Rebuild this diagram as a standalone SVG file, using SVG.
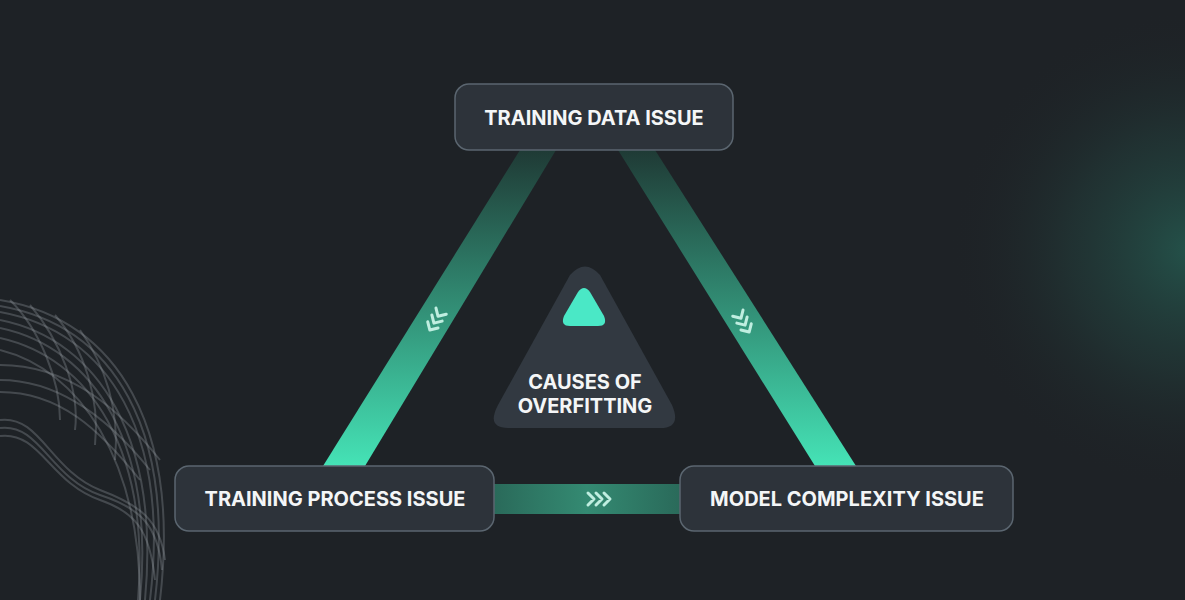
<svg xmlns="http://www.w3.org/2000/svg" width="1185" height="600" viewBox="0 0 1185 600">
<defs>
<style>
.node{fill:#2d333a;stroke:#5b6670;stroke-width:1.5}
.lbl{font-family:Inter,"Liberation Sans",sans-serif;font-weight:700;font-size:20px;fill:#f4f6f7;text-anchor:middle}
.chev{fill:none;stroke:#bfeee0;stroke-width:3;stroke-linecap:round;stroke-linejoin:round}
.mesh{fill:none;stroke:#a0a6ac;stroke-width:2;opacity:.3}
</style>
<radialGradient id="glow" cx="1190" cy="250" r="240" gradientUnits="userSpaceOnUse">
<stop offset="0" stop-color="#255a50" stop-opacity=".85"/><stop offset=".5" stop-color="#23403d" stop-opacity=".5"/><stop offset="1" stop-color="#1e2226" stop-opacity="0"/>
</radialGradient>
<linearGradient id="gL" x1="0" y1="150" x2="0" y2="466" gradientUnits="userSpaceOnUse">
<stop offset="0" stop-color="#1f3a35"/><stop offset="1" stop-color="#45e3b6"/></linearGradient>
<linearGradient id="gB" x1="494" y1="0" x2="680" y2="0" gradientUnits="userSpaceOnUse">
<stop offset="0" stop-color="#2a6a5a"/><stop offset=".5" stop-color="#348a72"/><stop offset="1" stop-color="#2a6a5a"/></linearGradient>
</defs>
<rect width="1185" height="600" fill="#1e2226"/>
<rect width="1185" height="600" fill="url(#glow)"/>
<g id="mesh">
<path class="mesh" d="M0 300 C120 320 180 430 160 600"/>
<path class="mesh" d="M0 306 C115 326 175 430 155 600"/>
<path class="mesh" d="M0 312 C110 332 170 435 150 600"/>
<path class="mesh" d="M0 320 C100 340 160 440 145 600"/>
<path class="mesh" d="M0 328 C95 348 155 445 140 600"/>
<path class="mesh" d="M0 338 C90 358 150 450 138 600"/>
<path class="mesh" d="M0 350 C80 370 140 460 140 600"/>
<path class="mesh" d="M0 420 C40 415 50 470 100 490 C140 505 160 520 165 560"/>
<path class="mesh" d="M0 428 C40 423 50 478 100 495 C140 508 158 525 162 570"/>
<path class="mesh" d="M0 436 C40 431 50 483 100 500 C135 512 150 530 155 580"/>
<path class="mesh" d="M0 380 C60 380 110 420 150 470"/>
<path class="mesh" d="M0 392 C60 392 100 430 140 480"/>
<path class="mesh" d="M0 365 C70 365 120 410 160 460"/>
<path class="mesh" d="M10 300 C40 330 60 380 60 420"/>
<path class="mesh" d="M30 305 C60 340 80 390 75 430"/>
<path class="mesh" d="M55 315 C85 350 100 400 95 445"/>
<path class="mesh" d="M80 330 C105 365 120 410 115 460"/>
</g>
<g id="connectors">
<polygon points="520,150 556,150 365,466 323,466" fill="url(#gL)"/>
<polygon points="618,150 655,150 856,466 815,466" fill="url(#gL)"/>
<rect x="494" y="484" width="186" height="30" fill="url(#gB)"/>
<g class="chev"><path d="M588 493 l6 6 -6 6 M596 493 l6 6 -6 6 M604 493 l6 6 -6 6"/></g>
<g class="chev" transform="translate(437 318) rotate(121)"><path d="M-8 -6 l6 6 -6 6 M0 -6 l6 6 -6 6 M8 -6 l6 6 -6 6"/></g>
<g class="chev" transform="translate(742 320) rotate(59)"><path d="M-8 -6 l6 6 -6 6 M0 -6 l6 6 -6 6 M8 -6 l6 6 -6 6"/></g>
</g>
<g id="center">
<path d="M570 275 Q585 258 600 275 L672 405 Q682 428 660 428 L508 428 Q486 428 498 405 Z" fill="#323941"/>
<path d="M578 292 Q584 284 590 292 L604 316 Q608 326 598 326 L570 326 Q560 326 564 316 Z" fill="#4ae8c6"/>
<text class="lbl" x="585" y="389">CAUSES OF</text>
<text class="lbl" x="585" y="413">OVERFITTING</text>
</g>
<g id="n-data"><rect class="node" x="455" y="84" width="278" height="66" rx="14"/><text class="lbl" x="594" y="125">TRAINING DATA ISSUE</text></g>
<g id="n-process"><rect class="node" x="175" y="466" width="319" height="65" rx="14"/><text class="lbl" x="335" y="506">TRAINING PROCESS ISSUE</text></g>
<g id="n-model"><rect class="node" x="680" y="466" width="333" height="65" rx="14"/><text class="lbl" x="847" y="506">MODEL COMPLEXITY ISSUE</text></g>
</svg>
